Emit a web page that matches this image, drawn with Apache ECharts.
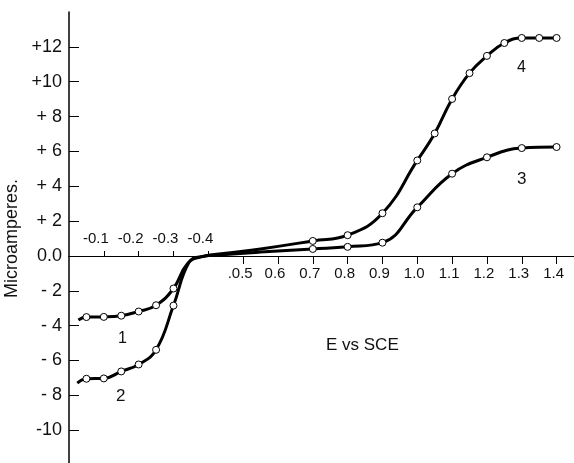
<!DOCTYPE html>
<html>
<head>
<meta charset="utf-8">
<script src="https://cdn.jsdelivr.net/npm/echarts@6/dist/echarts.min.js"></script>
<style>
  html, body { margin: 0; padding: 0; background: #fff; }
  #chart { width: 574px; height: 463px; }
</style>
</head>
<body>
<div id="chart"></div>
<script>
// tick positions and their printed labels
const leftTicks = [0.1, 0.2, 0.3, 0.4]
const leftLabels = ['-0.1', '-0.2', '-0.3', '-0.4']
const rightTicks = [0.5, 0.6, 0.7, 0.8, 0.9, 1.0, 1.1, 1.2, 1.3, 1.4]
const rightLabels = ['.0.5', '0.6', '0.7', '0.8', '0.9', '1.0', '1.1', '1.2', '1.3', '1.4']
const yTicks = [-10, -8, -6, -4, -2, 0, 2, 4, 6, 8, 10, 12]
const yLabels = ['-10', '- 8', '- 6', '- 4', '- 2', '0.0', '+ 2', '+ 4', '+ 6', '+ 8', '+10', '+12']

// curve 1 continuing into curve 3 (E, microamperes, marked point?)
const curveA = [
  [0.027, -3.68, 0],
  [0.05, -3.51, 1], [0.10, -3.50, 1], [0.15, -3.43, 1], [0.20, -3.19, 1],
  [0.25, -2.83, 1], [0.30, -1.87, 1],
  [0.34, -0.45, 0], [0.38, -0.05, 0], [0.45, 0.08, 0], [0.55, 0.22, 0],
  [0.70, 0.40, 1], [0.80, 0.52, 1], [0.90, 0.76, 1], [1.00, 2.79, 1],
  [1.10, 4.72, 1], [1.20, 5.66, 1], [1.30, 6.19, 1], [1.40, 6.25, 1]
]
// curve 2 continuing into curve 4
const curveB = [
  [0.024, -7.30, 0],
  [0.05, -7.05, 1], [0.10, -7.03, 1], [0.15, -6.63, 1], [0.20, -6.23, 1],
  [0.25, -5.39, 1], [0.30, -2.85, 1],
  [0.345, -0.35, 0], [0.38, -0.04, 0], [0.45, 0.15, 0], [0.55, 0.40, 0],
  [0.70, 0.86, 1], [0.80, 1.19, 1], [0.90, 2.45, 1], [1.00, 5.48, 1],
  [1.05, 7.03, 1], [1.10, 9.01, 1], [1.15, 10.49, 1], [1.20, 11.48, 1],
  [1.25, 12.22, 1], [1.30, 12.51, 1], [1.35, 12.51, 1], [1.40, 12.51, 1]
]

const font = 'Liberation Sans, Arial, sans-serif'

function toData (pts) {
  return pts.map(p => ({
    value: [p[0], p[1]],
    symbol: p[2] ? 'circle' : 'none'
  }))
}

function curve (pts) {
  return {
    type: 'line',
    data: toData(pts),
    smooth: 0.45,
    symbolSize: 7,
    showAllSymbol: true,
    lineStyle: { color: '#000', width: 3 },
    itemStyle: { color: '#fff', borderColor: '#000', borderWidth: 1 },
    emphasis: { disabled: true },
    z: 3
  }
}

// both x axes are shifted onto y = 0 with offset (grid 12..465, zero at 256)
function xAxisBase (pos, offset, ticks, labels, margin, pad) {
  return {
    type: 'value',
    position: pos,
    offset: offset,
    min: 0,
    max: 1.45,
    axisLine: { onZero: false, lineStyle: { color: '#000', width: 1 } },
    axisTick: { show: true, length: pos === 'top' ? 5 : 8, customValues: ticks, lineStyle: { color: '#000' } },
    axisLabel: {
      customValues: ticks,
      margin: margin,
      padding: pad,
      color: '#111',
      fontFamily: font,
      fontSize: 15,
      formatter: v => labels[ticks.findIndex(t => Math.abs(t - v) < 1e-6)] || ''
    },
    splitLine: { show: false }
  }
}

const chart = echarts.init(document.getElementById('chart'))
chart.setOption({
  animation: false,
  grid: { left: 69, top: 12, width: 505, height: 453, outerBoundsMode: 'none', containLabel: false },
  xAxis: [
    xAxisBase('bottom', -209, rightTicks, rightLabels, 10, [0, 6, 0, 0]),
    xAxisBase('top', -244, leftTicks, leftLabels, 10, [0, 16, 0, 0])
  ],
  yAxis: {
    type: 'value',
    min: -12,
    max: 14,
    name: 'Microamperes.',
    nameLocation: 'middle',
    nameRotate: 90,
    nameGap: 47,
    nameTextStyle: { fontFamily: font, fontSize: 18, color: '#111' },
    axisLine: { onZero: false, lineStyle: { color: '#000', width: 1.5 } },
    axisTick: { inside: true, length: 10, customValues: yTicks, lineStyle: { color: '#000' } },
    axisLabel: {
      customValues: yTicks,
      margin: 7,
      color: '#111',
      fontFamily: font,
      fontSize: 18,
      formatter: v => yLabels[yTicks.indexOf(v)]
    },
    splitLine: { show: false }
  },
  graphic: [
    { type: 'text', left: 118, top: 331, style: { text: '1', font: '16px ' + font, fill: '#111' } },
    { type: 'text', left: 116, top: 388, style: { text: '2', font: '17px ' + font, fill: '#111' } },
    { type: 'text', left: 517, top: 171, style: { text: '3', font: '17px ' + font, fill: '#111' } },
    { type: 'text', left: 517, top: 60, style: { text: '4', font: '16px ' + font, fill: '#111' } },
    { type: 'text', left: 326, top: 337, style: { text: 'E vs SCE', font: '17px ' + font, fill: '#111' } }
  ],
  series: [curve(curveA), curve(curveB)]
})
</script>
</body>
</html>
